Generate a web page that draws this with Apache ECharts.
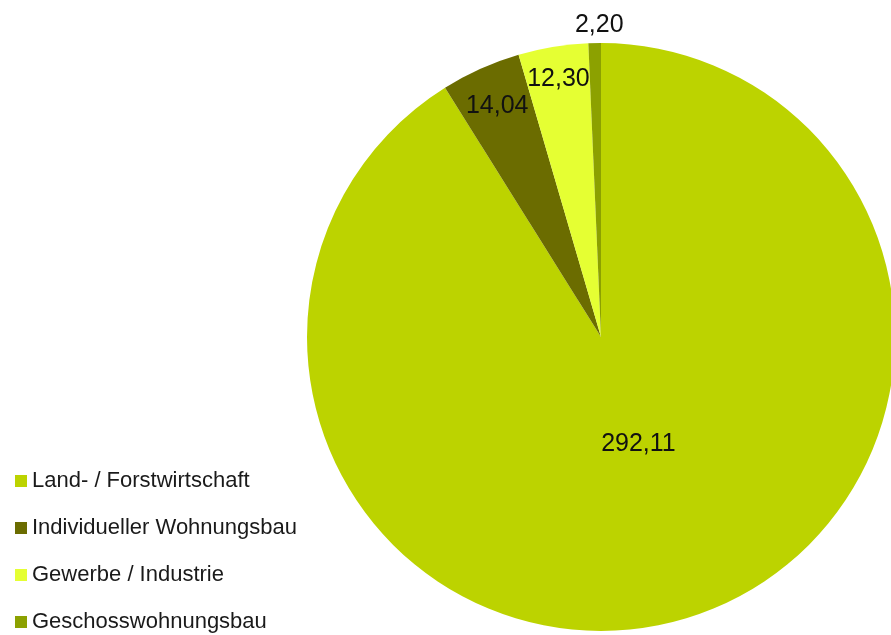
<!DOCTYPE html>
<html>
<head>
    <meta charset="utf-8">
    <title>Flächennutzung</title>
    <script src="https://cdn.jsdelivr.net/npm/echarts@6/dist/echarts.min.js"></script>
    <style>
        html, body { margin: 0; padding: 0; background: #fff; }
        #main { width: 891px; height: 635px; }
    </style>
</head>
<body>
<div id="main"></div>
<script>
    // Kategorien und Werte
    var categories = ['Land- / Forstwirtschaft', 'Individueller Wohnungsbau', 'Gewerbe / Industrie', 'Geschosswohnungsbau'];
    var values = [292.11, 14.04, 12.30, 2.20];
    var colors = ['#bcd300', '#6b6c00', '#e5ff33', '#8ca100'];

    function fmt(v) {
        return v.toFixed(2).replace('.', ',');
    }

    var chart = echarts.init(document.getElementById('main'));
    var center = [601, 337];
    var R = 294;

    // labels are shown by transparent rings of different radius, one label per ring
    function labelRing(radius, showIdx, offset) {
        return {
            type: 'pie',
            silent: true,
            center: center,
            radius: radius,
            startAngle: 90,
            itemStyle: { color: 'transparent' },
            label: {
                show: true,
                position: 'inside',
                color: '#111',
                fontSize: 25,
                fontFamily: 'Liberation Sans, Arial, sans-serif',
                offset: offset || [0, 0],
                formatter: function (p) { return fmt(p.value); }
            },
            labelLine: { show: false },
            emphasis: { disabled: true },
            tooltip: { show: false },
            data: categories.map(function (c, i) {
                return { name: c, value: values[i], label: { show: showIdx.indexOf(i) >= 0 } };
            })
        };
    }

    var option = {
        animation: false,
        legend: {
            orient: 'vertical',
            left: 15,
            top: 470,
            height: 200,
            padding: 0,
            itemWidth: 12,
            itemHeight: 12,
            itemGap: 25,
            icon: 'rect',
            textStyle: {
                fontSize: 22,
                color: '#1a1a1a',
                fontFamily: 'Liberation Sans, Arial, sans-serif'
            },
            data: categories
        },
        series: [
            {
                type: 'pie',
                center: center,
                radius: [0, R],
                startAngle: 90,
                clockwise: true,
                label: { show: false },
                labelLine: { show: false },
                data: categories.map(function (c, i) {
                    return { name: c, value: values[i], itemStyle: { color: colors[i] } };
                })
            },
            labelRing([0, 222], [0], [6, -2]),
            labelRing([212, 289], [1]),
            labelRing([220, 296], [2]),
            labelRing([296, 322], [3], [5, 0])
        ]
    };
    chart.setOption(option);
</script>
</body>
</html>
